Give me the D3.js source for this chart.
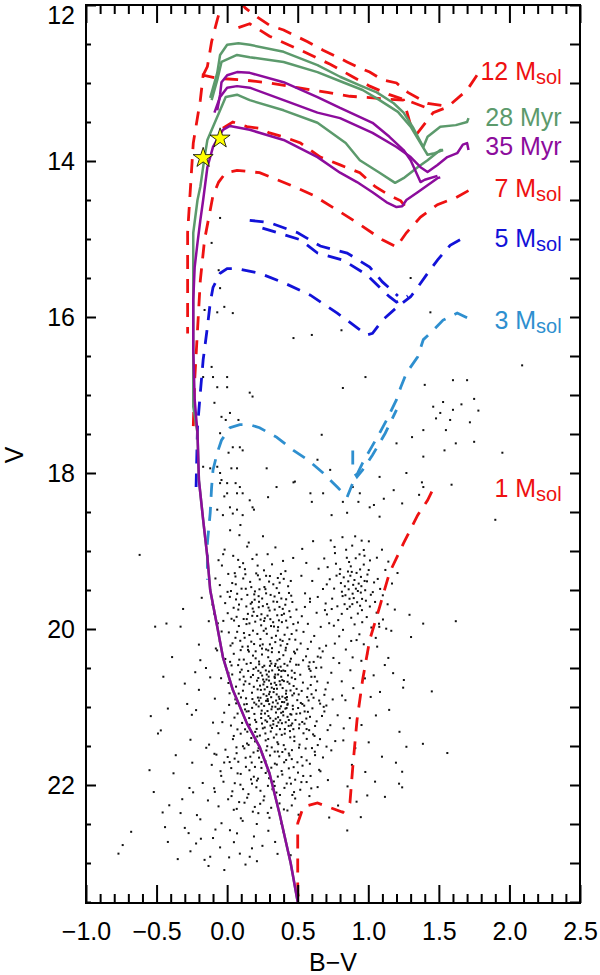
<!DOCTYPE html>
<html>
<head>
<meta charset="utf-8">
<script src="https://cdn.jsdelivr.net/npm/d3@7"></script>
<style>
  body { margin: 0; background: #fff; }
  text { font-family: "Liberation Sans", Arial, sans-serif; }
</style>
</head>
<body>
<script>
// axis ticks
var xTicks = [-1.0, -0.5, 0.0, 0.5, 1.0, 1.5, 2.0, 2.5];
var yTicks = [12, 14, 16, 18, 20, 22];

// pre-main-sequence tracks [B-V, V]
var track12 = [[1.77,12.90],[1.70,13.09],[1.56,13.31],[1.46,13.38],[1.35,13.64],[1.30,13.54],[1.25,13.22],[1.15,13.21],[1.03,13.19],[0.87,13.17],[0.71,13.12],[0.50,13.06],[0.30,13.00],[0.11,12.96],[-0.07,12.94],[-0.17,12.90],[-0.19,13.22],[-0.24,13.77],[-0.28,14.92],[-0.28,16.21]];
var track12b = [[-0.17,12.90],[-0.14,12.79],[-0.11,12.47],[-0.07,12.19],[-0.04,12.00],[0.01,11.90],[0.06,11.90],[0.13,12.04],[0.21,12.15],[0.30,12.26],[0.40,12.32],[0.50,12.41],[0.57,12.47],[0.68,12.58],[0.75,12.64],[0.85,12.73],[0.92,12.79],[1.01,12.86],[1.10,12.96],[1.20,13.00],[1.28,13.12],[1.42,13.26],[1.53,13.29]];
var track12c = [[0.08,12.29],[0.16,12.24],[0.30,12.40],[0.52,12.58],[0.73,12.76],[0.87,12.90],[1.01,13.04],[1.15,13.15],[1.30,13.24],[1.40,13.31]];
var track7 = [[1.71,14.38],[1.62,14.47],[1.49,14.56],[1.37,14.72],[1.27,14.92],[1.20,15.10],[1.10,15.01],[0.92,14.79],[0.78,14.63],[0.61,14.44],[0.45,14.31],[0.23,14.15],[0.07,14.12],[-0.01,14.15],[-0.06,14.27],[-0.10,14.44],[-0.12,14.63],[-0.16,15.01],[-0.19,15.53],[-0.21,16.17],[-0.23,16.81],[-0.24,17.41]];
var track7b = [[-0.03,13.58],[0.04,13.50],[0.14,13.56],[0.23,13.58],[0.30,13.64],[0.40,13.69],[0.52,13.77],[0.66,13.95],[0.80,14.05],[0.94,14.15],[1.05,14.33],[1.15,14.44],[1.23,14.51],[1.26,14.58]];
var track5 = [[1.65,15.01],[1.58,15.08],[1.49,15.27],[1.42,15.44],[1.35,15.62],[1.30,15.74],[1.20,15.88],[1.10,16.04],[1.03,16.21],[0.99,16.23],[0.78,15.95],[0.59,15.72],[0.40,15.56],[0.23,15.44],[0.07,15.38],[0.00,15.38],[-0.05,15.44],[-0.10,15.62],[-0.12,15.82],[-0.14,16.13],[-0.17,16.55],[-0.19,16.97],[-0.21,17.41],[-0.22,18.18]];
var track5b = [[0.16,14.76],[0.30,14.79],[0.50,14.92],[0.66,15.09],[0.85,15.18],[1.01,15.36],[1.10,15.55],[1.18,15.68],[1.21,15.73]];
var track5c = [[0.25,14.86],[0.36,14.92],[0.52,15.01],[0.64,15.18],[0.82,15.27],[0.99,15.46],[1.08,15.62],[1.15,15.74],[1.20,15.81],[1.28,15.73]];
var track3 = [[1.70,16.01],[1.63,15.95],[1.53,16.04],[1.46,16.17],[1.39,16.29],[1.35,16.51],[1.27,16.72],[1.23,16.90],[1.20,17.06],[1.13,17.32],[1.08,17.49],[1.01,17.71],[0.96,17.87],[0.89,18.13],[0.85,18.31],[0.78,18.18],[0.68,18.00],[0.57,17.83],[0.47,17.71],[0.35,17.54],[0.23,17.42],[0.16,17.38],[0.09,17.38],[0.02,17.42],[-0.04,17.58],[-0.07,17.74],[-0.10,17.96],[-0.11,18.18],[-0.12,18.51],[-0.14,18.90],[-0.14,19.37]];
var track3b = [[0.89,17.71],[0.89,17.96],[0.92,18.05],[0.96,17.96],[1.03,17.77],[1.12,17.49],[1.20,17.19]];
var track1 = [[1.45,18.24],[1.42,18.35],[1.35,18.54],[1.25,18.90],[1.15,19.28],[1.08,19.72],[1.01,20.14],[0.96,20.65],[0.92,21.17],[0.89,21.77],[0.87,22.23],[0.82,22.35],[0.64,22.23],[0.54,22.28],[0.50,22.49],[0.50,22.79],[0.50,23.38],[0.52,23.60]];

// isochrones
var iso28a = [[0.51,23.60],[0.45,23.00],[0.37,22.36],[0.30,21.85],[0.23,21.51],[0.14,21.21],[0.04,20.78],[-0.03,20.36],[-0.07,19.97],[-0.12,19.50],[-0.14,19.08],[-0.17,18.60],[-0.20,18.09],[-0.21,17.49],[-0.24,17.15],[-0.24,16.21],[-0.24,15.36],[-0.24,14.92],[-0.21,14.50],[-0.19,14.33],[-0.16,13.95],[-0.14,13.73],[-0.10,13.56],[-0.05,13.35],[-0.01,13.18],[0.07,13.15],[0.16,13.22],[0.40,13.35],[0.64,13.51],[0.84,13.77],[0.94,13.99],[1.08,14.15],[1.19,14.28],[1.25,14.22],[1.35,14.08],[1.42,13.99],[1.51,13.86],[1.53,13.86]];
var iso28b = [[-0.12,13.19],[-0.07,12.87],[-0.05,12.64],[0.00,12.51],[0.08,12.49],[0.16,12.51],[0.40,12.60],[0.64,12.77],[0.80,12.92],[0.94,13.03],[1.06,13.12],[1.18,13.26],[1.25,13.38],[1.32,13.58],[1.39,13.82],[1.42,13.69],[1.51,13.56],[1.62,13.54],[1.70,13.50],[1.71,13.45]];
var iso28c = [[-0.11,13.22],[-0.07,12.96],[-0.04,12.73],[0.07,12.64],[0.16,12.67],[0.40,12.73],[0.64,12.86],[0.82,12.99],[0.96,13.09],[1.08,13.22],[1.21,13.37],[1.30,13.56],[1.37,13.77],[1.42,13.92],[1.47,13.90],[1.53,13.86]];
var iso35a = [[0.51,23.60],[0.45,23.00],[0.37,22.36],[0.30,21.85],[0.23,21.51],[0.14,21.21],[0.04,20.78],[-0.03,20.36],[-0.07,19.97],[-0.12,19.50],[-0.14,19.08],[-0.17,18.60],[-0.20,18.09],[-0.21,17.49],[-0.23,17.06],[-0.24,16.42],[-0.24,15.78],[-0.23,15.36],[-0.21,15.05],[-0.19,14.76],[-0.17,14.50],[-0.14,14.08],[-0.10,13.82],[-0.06,13.69],[-0.03,13.60],[0.02,13.55],[0.16,13.60],[0.40,13.73],[0.64,13.95],[0.80,14.15],[0.92,14.27],[1.03,14.40],[1.13,14.53],[1.20,14.59],[1.24,14.58],[1.27,14.50],[1.35,14.40],[1.42,14.31],[1.49,14.22],[1.51,14.21]];
var iso35b = [[-0.09,13.38],[-0.05,13.18],[0.00,13.06],[0.07,13.04],[0.16,13.06],[0.40,13.22],[0.64,13.38],[0.80,13.45],[1.03,13.64],[1.20,13.82],[1.30,13.95],[1.37,14.08],[1.42,14.14],[1.49,14.05],[1.56,13.95],[1.63,13.90],[1.67,13.79],[1.70,13.77],[1.71,13.86]];
var iso35c = [[-0.07,13.35],[-0.05,13.15],[-0.04,12.99],[0.00,12.90],[0.07,12.86],[0.16,12.87],[0.40,12.99],[0.64,13.18],[0.80,13.32],[1.03,13.51],[1.15,13.69],[1.25,13.86],[1.30,13.99],[1.37,14.27],[1.40,14.24],[1.49,14.19]];

// the two marked stars
var markBV = [-0.05, -0.17];
var markV = [13.71, 13.96];

// observed stars [B-V, V]: main clump core
var starsCore = [
[0.312,20.874],[0.187,20.512],[0.453,21.236],[0.268,21.083],[0.391,20.655],[0.522,20.948],[0.143,21.317],[0.356,20.402],[0.239,20.781],[0.478,20.563],
[0.331,21.392],[0.206,20.967],[0.417,20.829],[0.294,20.611],[0.561,21.148],[0.372,21.021],[0.158,20.703],[0.446,20.417],[0.253,21.274],[0.389,20.936],
[0.319,20.531],[0.491,21.087],[0.227,20.452],[0.363,21.198],[0.134,20.889],[0.408,21.342],[0.284,20.743],[0.537,20.687],[0.342,20.997],[0.198,21.165],
[0.431,20.594],[0.276,20.921],[0.509,21.273],[0.353,20.766],[0.221,20.628],[0.398,21.107],[0.167,20.436],[0.462,20.851],[0.307,21.238],[0.582,20.512],
[0.245,21.046],[0.379,20.483],[0.291,21.411],[0.427,20.972],[0.176,20.817],[0.341,20.584],[0.503,21.013],[0.263,20.677],[0.415,21.196],[0.329,20.809],
[0.213,21.378],[0.471,20.731],[0.384,20.539],[0.152,21.054],[0.298,20.963],[0.445,21.309],[0.237,20.561],[0.361,21.131],[0.528,20.794],[0.283,21.189],
[0.406,20.447],[0.192,20.944],[0.337,20.689],[0.484,21.166],[0.258,20.836],[0.374,21.284],[0.129,20.671],[0.421,20.908],[0.303,20.472],[0.549,21.057],
[0.271,21.339],[0.393,20.757],[0.218,20.879],[0.458,20.623],[0.346,21.071],[0.183,20.589],[0.436,21.242],[0.311,20.702],[0.247,21.212],[0.497,20.912],
[0.367,20.526],[0.279,20.857],[0.413,21.021],[0.161,21.227],[0.324,20.941],[0.518,20.586],[0.233,20.726],[0.387,21.357],[0.293,21.116],[0.449,20.788],
[0.204,20.493],[0.351,20.838],[0.476,21.381],[0.262,20.986],[0.402,20.668],[0.139,20.962],[0.318,21.269],[0.567,20.873],[0.241,21.141],[0.381,20.991],
[0.336,20.612],[0.428,21.126],[0.274,20.531],[0.193,21.089],[0.465,20.984],[0.356,21.452],[0.226,20.918],[0.411,20.539],[0.302,20.806],[0.532,21.192],
[0.255,20.648],[0.371,20.897],[0.441,20.701],[0.177,21.011],[0.327,21.178],[0.489,20.458],[0.289,20.924],[0.396,21.061],[0.216,20.774],[0.348,20.718],
[0.455,21.098],[0.266,21.263],[0.383,20.612],[0.149,20.538],[0.314,21.029],[0.507,20.839],[0.236,20.882],[0.424,20.873],[0.358,20.953],[0.297,20.661],
[0.469,21.284],[0.209,21.281],[0.339,20.474],[0.419,20.791],[0.248,20.597],[0.376,21.169],[0.541,21.337],[0.286,21.052],[0.404,20.938],[0.171,21.398],
[0.297,20.836],[0.352,21.243],[0.223,20.993],[0.412,20.884],[0.338,20.627],[0.271,21.171],[0.466,21.028],[0.189,20.741],[0.383,21.074],[0.251,20.489],
[0.428,20.677],[0.309,21.314],[0.156,21.142],[0.492,20.768],[0.366,20.869],[0.232,21.366],[0.447,21.389],[0.281,20.584],[0.398,20.532],[0.212,20.662],
[0.344,21.151],[0.512,21.223],[0.266,20.774],[0.421,21.013],[0.319,20.996],[0.179,20.898],[0.458,20.534],[0.377,20.713],[0.241,21.087],[0.533,20.962],
[0.313,20.443],[0.437,21.167],[0.287,20.898],[0.361,20.583],[0.199,21.319],[0.474,20.826],[0.349,21.352],[0.257,20.711],[0.409,21.283],[0.332,20.768],
[0.273,21.428],[0.391,20.867],[0.221,20.536],[0.448,21.091],[0.305,21.144],[0.168,20.617],[0.517,21.081],[0.359,21.028],[0.296,20.546],[0.429,20.958],
[0.243,20.958],[0.372,20.669],[0.482,20.642],[0.327,21.222],[0.206,21.193],[0.388,21.208],[0.279,20.648],[0.461,21.211],[0.347,20.917],[0.316,20.752]
];

// upper part of the main clump, just red-ward of the main sequence
var starsUpper = [
[0.021,18.734],[0.153,18.892],[0.287,19.041],[-0.037,19.186],[0.094,18.667],[0.218,19.312],[0.342,18.954],[0.061,19.427],[0.179,19.103],[0.413,19.258],
[-0.018,18.982],[0.126,19.233],[0.254,18.811],[0.372,19.406],[0.043,19.062],[0.197,19.518],[0.318,19.171],[0.087,18.797],[0.231,19.364],[0.468,19.089],
[0.008,19.294],[0.142,18.943],[0.271,19.489],[0.396,19.127],[0.063,19.621],[0.209,19.047],[0.336,19.583],[-0.052,19.437],[0.114,19.352],[0.253,19.707],
[0.381,19.294],[0.027,19.513],[0.167,19.676],[0.297,19.392],[0.438,19.538],[0.079,19.751],[0.223,19.579],[0.355,19.824],[-0.014,19.668],[0.132,19.484],
[0.267,19.862],[0.412,19.689],[0.049,19.891],[0.188,19.779],[0.308,19.563],[0.449,19.847],[0.102,19.618],[0.241,19.953],[0.371,19.717],[0.004,19.797],
[0.158,19.928],[0.283,19.681],[0.427,19.982],[0.071,20.036],[0.213,19.833],[0.346,20.087],[0.491,19.751],[0.124,20.112],[0.262,19.897],[0.393,20.153],
[0.038,20.183],[0.183,20.021],[0.318,20.246],[0.457,20.064],[0.096,20.271],[0.236,20.129],[0.367,20.297],[0.521,20.186],[0.147,20.224],[0.281,20.062],
[0.416,20.241],[0.059,20.113],[0.202,20.286],[0.332,19.968],[0.474,20.291],[0.117,19.872],[0.252,20.197],[0.388,19.912],[0.541,20.037],[0.171,20.162],
[0.301,19.763],[0.441,20.131],[0.083,19.962],[0.224,19.721],[0.359,20.021],[0.502,19.917],[0.136,19.711],[0.274,19.995],[0.403,19.804],[0.031,19.869],
[0.195,19.624],[0.326,19.913],[0.462,19.654],[0.108,20.227],[0.243,19.811],[0.379,20.211],[0.552,19.543],[0.163,19.396],[0.291,20.274],[0.432,19.452],
[0.071,19.548],[0.214,20.063],[0.351,19.476],[0.012,20.044],[0.147,19.806],[0.276,19.543],[0.418,19.893],[0.059,19.327],[0.199,19.906],[0.328,19.648],
[0.483,20.137],[0.119,20.052],[0.247,20.251],[0.384,19.609],[0.529,19.836],[0.089,19.206],[0.229,19.491],[0.361,19.976],[0.451,19.384],[0.178,19.831],
[0.303,19.321],[0.046,19.728],[0.191,20.193],[0.337,19.751],[0.261,19.248],[0.407,20.074],[0.143,19.563],[0.587,19.652],[0.024,20.213],[0.368,19.537],
[0.054,19.284],[0.171,19.463],[0.306,19.874],[0.418,19.619],[0.084,19.687],[0.226,19.651],[0.367,19.889],[0.137,19.937],[0.276,19.318],[0.341,20.168],
[0.019,19.588],[0.158,20.077],[0.293,19.726],[0.441,19.771],[0.067,19.844],[0.206,19.287],[0.354,19.652],[0.113,19.156],[0.248,19.609],[0.387,19.821],
[0.036,19.411],[0.181,19.738],[0.316,20.113],[0.469,19.937],[0.093,20.151],[0.237,19.879],[0.376,20.137],[0.129,19.298],[0.259,20.023],[0.401,19.357],
[-0.027,19.896],[0.216,19.187],[0.327,19.427],[0.078,19.114],[0.192,19.556],[0.311,19.962],[0.454,19.573],[0.148,20.268],[0.286,19.829],[0.426,20.193],
[0.003,19.524],[0.139,19.873],[0.264,19.462],[0.394,19.742],[0.102,19.483],[0.233,20.213],[0.359,19.346],[0.491,20.018],[0.176,19.657],[0.303,20.197]
];

// stars around the edges of the main clump
var starsHalo = [
[0.047,20.318],[0.118,20.392],[0.183,20.341],[0.226,20.418],[0.291,20.362],[0.343,20.447],[0.398,20.336],[0.452,20.381],[0.506,20.459],[0.559,20.351],
[0.613,20.422],[0.078,20.463],[0.154,20.289],[0.263,20.471],[0.317,20.297],[0.371,20.384],[0.427,20.468],[0.481,20.312],[0.538,20.401],[0.202,20.376],
[0.662,20.366],[0.021,20.421],[0.247,20.327],[0.359,20.494],[0.414,20.273],[0.138,20.447],[0.306,20.411],[0.577,20.479],[0.496,20.263],[0.276,20.262],
[0.036,20.583],[0.089,20.647],[0.112,20.791],[0.058,20.902],[0.121,20.967],[0.074,21.084],[0.131,21.167],[0.027,21.238],[0.096,21.342],[0.141,21.468],
[0.066,21.517],[0.103,20.521],[0.014,20.973],[0.047,21.371],[0.127,21.286],[0.082,20.828],[0.009,20.563],[0.117,20.611],[0.063,20.739],[0.138,21.057],
[0.591,20.537],[0.638,20.672],[0.612,20.881],[0.571,20.763],[0.659,20.957],[0.587,21.126],[0.623,21.243],[0.564,21.409],[0.689,20.844],[0.604,21.017],
[0.556,21.532],[0.642,21.488],[0.597,20.613],[0.672,21.115],[0.581,21.297],[0.631,20.498],[0.703,20.981],[0.548,21.214],[0.619,21.371],[0.577,20.916],
[0.152,21.486],[0.223,21.527],[0.284,21.503],[0.337,21.572],[0.401,21.489],[0.459,21.553],[0.513,21.482],[0.198,21.441],[0.362,21.476],[0.476,21.437],
[0.067,21.592],[0.131,21.651],[0.187,21.583],[0.243,21.706],[0.304,21.621],[0.352,21.738],[0.418,21.679],[0.471,21.771],[0.527,21.642],[0.586,21.728],
[0.029,21.783],[0.096,21.858],[0.158,21.811],[0.219,21.918],[0.273,21.846],[0.331,21.955],[0.386,21.821],[0.443,21.907],[0.502,21.841],[0.563,21.962],
[-0.042,21.883],[0.054,21.977],[0.113,22.053],[0.176,21.983],[0.236,22.074],[0.289,22.011],[0.349,22.097],[0.406,22.037],[0.462,22.128],[0.518,22.061],
[-0.087,22.088],[0.031,22.142],[0.085,22.219],[0.142,22.163],[0.196,22.281],[0.258,22.197],[0.312,22.292],[0.371,22.236],[0.427,22.327],[0.482,22.173],
[0.122,21.531],[0.278,21.557],[0.437,21.596],[0.004,21.641],[0.197,21.768],[0.359,21.892],[0.539,21.884],[0.623,21.617],[-0.021,21.712],[0.661,21.824],
[0.079,21.702],[0.226,21.649],[0.391,21.577],[0.498,21.709],[0.169,21.928],[0.313,21.778],[0.452,21.983],[0.596,22.043],[0.047,22.318],[0.221,22.361],
[0.561,19.153],[0.603,19.384],[0.648,19.227],[0.587,19.611],[0.634,19.792],[0.679,19.487],[0.572,19.934],[0.617,20.089],[0.663,19.973],[0.701,20.214],
[0.551,19.717],[0.594,20.163],[0.642,19.589],[0.532,18.973],[0.688,19.096],[0.609,18.874],[0.571,20.256],[0.693,19.758],[0.526,19.318],[0.654,20.248],
[-0.061,19.118],[-0.083,19.352],[-0.047,19.583],[-0.092,19.803],[-0.039,20.032],[-0.071,20.274],[-0.028,19.041],[-0.104,19.687],[-0.066,19.927],[-0.052,20.158],
[0.734,18.864],[0.817,18.823],[0.907,18.812],[1.004,18.876],[1.097,18.983],[1.142,19.136],[1.168,19.417],[1.137,19.683],[1.104,19.878],[1.053,20.114],
[0.968,20.196],[0.879,20.153],[0.794,20.094],[0.723,19.926],[0.698,19.673],[0.706,19.428],[0.712,19.207],[0.761,18.948],[1.188,19.751],[1.207,19.282],
[0.775,19.316],[1.127,19.996],[0.953,18.867],[1.061,19.086],[0.741,19.744]
];

// lower half of the main clump and its edges
var starsLower = [
[0.031,20.467],[-0.043,20.631],[0.092,20.554],[0.017,20.824],[0.118,20.712],[-0.021,21.073],[0.064,20.953],[0.106,21.204],[-0.062,21.336],[0.041,21.412],
[0.127,21.031],[-0.013,20.384],[0.073,21.287],[0.009,20.692],[0.098,20.877],[-0.087,20.893],[0.052,21.136],[-0.128,21.482],[0.086,20.393],[-0.034,21.194],
[0.584,20.427],[0.621,20.612],[0.667,20.493],[0.713,20.688],[0.598,20.836],[0.652,20.917],[0.697,20.774],[0.748,20.903],[0.572,21.062],[0.634,21.184],
[0.689,21.057],[0.731,21.233],[0.783,21.106],[0.609,21.351],[0.658,21.412],[0.712,21.296],[0.766,21.437],[0.592,20.718],[0.642,20.354],[0.704,21.508],
[0.814,20.853],[0.563,21.283],[0.677,20.287],[0.738,20.561],[0.826,21.274],[0.601,21.527],[0.546,20.983],[0.753,20.371],[0.629,20.786],[0.684,20.998],
[-0.148,21.523],[-0.076,21.611],[-0.012,21.547],[0.053,21.662],[0.112,21.503],[0.164,21.637],[0.217,21.561],[0.271,21.692],[0.316,21.518],[0.369,21.633],
[0.412,21.542],[0.458,21.668],[0.509,21.521],[0.563,21.684],[0.621,21.573],[0.679,21.647],[0.738,21.556],[-0.109,21.742],[-0.047,21.823],[0.018,21.706],
[0.074,21.851],[0.133,21.767],[0.189,21.894],[0.243,21.781],[0.297,21.913],[0.338,21.726],[0.391,21.866],[0.437,21.787],[0.482,21.932],[0.534,21.752],
[0.591,21.884],[0.652,21.806],[0.714,21.937],[-0.173,21.974],[-0.092,22.042],[-0.026,21.958],[0.037,22.081],[0.094,21.996],[0.151,22.117],[0.207,22.029],
[0.263,22.146],[0.321,22.054],[0.374,22.128],[0.422,21.981],[0.474,22.091],[0.526,21.963],[0.583,22.142],[0.641,22.027],[-0.136,22.198],[-0.061,22.274],
[0.007,22.183],[0.068,22.306],[0.123,22.227],[0.182,22.342],[0.234,22.241],[0.288,22.358],[0.347,22.196],[0.402,22.313],[0.458,22.262],[0.506,22.381],
[-0.214,22.386],[0.097,22.427],[0.251,21.612],[0.359,21.571],[0.174,21.712],[0.441,21.621],[0.287,21.821],[0.211,21.943],[0.404,21.709],[0.337,22.012],
[-0.77,22.88],[-0.74,22.77],[-0.68,22.6],[-0.44,22.54],[-0.42,22.73],[-0.33,22.36],[-0.41,22.26],[-0.22,22.75],[-0.16,22.96],[-0.12,22.92],
[-0.02,23.09],[-0.1,22.68],[-0.04,22.49],[0.09,22.88],[0.16,22.92],[0.07,22.62],[0.11,22.46],[0.21,22.5],[0.3,22.42],[0.34,22.73],
[0.19,22.66],[-0.19,22.44],[-0.3,22.55],[-0.26,22.85],[-0.05,22.8],[0.02,22.58],[0.25,22.78],[0.4,22.6],[0.13,23.02],[-0.35,22.95],
[0.45,22.9],[-0.52,22.09],[-0.38,21.85],[-0.55,21.81],[-0.273,22.617],[-0.186,22.689],[-0.083,22.571],[0.048,22.733],[0.176,22.812],[0.292,22.587],
[0.357,22.883],[-0.457,22.352],[-0.318,22.182],[-0.241,22.094],[0.014,22.928],[0.211,22.977],[-0.132,23.038],[0.383,22.491],
[-0.19,20.4],[-0.2,20.78],[-0.22,21.04],[-0.12,20.62],[-0.1,21.2],[-0.08,20.25],[-0.13,19.9],[-0.09,21.6],
[-0.283,20.961],[-0.364,21.618],[-0.247,21.714],[-0.452,20.612],[-0.312,19.743],[-0.226,20.554],[-0.541,21.117],[-0.267,22.038]
];

// red clump near B-V 0.9, V 19.5 and the region to its lower right
var starsRed = [
[0.912,19.483],[0.873,19.317],[0.956,19.614],[0.834,19.452],[0.991,19.389],[0.887,19.681],[0.942,19.236],[0.818,19.578],[1.032,19.527],[0.864,19.141],
[0.926,19.802],[0.798,19.294],[0.973,19.061],[0.851,19.743],[1.067,19.358],[0.902,19.372],[0.781,19.709],[1.011,19.712],[0.843,18.984],[0.957,19.913],
[0.889,19.547],[0.932,19.418],[0.867,19.612],[0.978,19.503],[0.826,19.338],[1.003,19.244],[0.911,19.093],[0.758,19.482],[1.048,19.653],[0.879,19.856],
[0.948,19.332],[0.812,19.806],[0.989,19.847],[0.856,19.263],[1.084,19.486],[0.921,19.657],[0.771,19.163],[0.968,19.174],[0.838,19.567],[1.022,19.981],
[0.893,19.434],[0.947,19.533],[0.806,19.411],[0.983,19.637],[0.861,19.491],[1.041,19.403],[0.917,19.281],[0.744,19.611],[0.955,19.758],[0.876,19.197],
[0.832,19.682],[0.994,19.302],[0.903,19.941],[0.787,19.886],[1.059,19.791],[0.938,19.043],[0.848,19.087],[1.012,19.121],[0.886,18.931],[0.968,18.987],
[0.764,19.027],[1.103,19.568],[0.821,20.011],[0.937,20.068],[1.076,19.932],[0.727,19.362],[0.858,19.389],[0.926,19.513],[0.897,19.604],[0.951,19.451],
[0.813,19.522],[0.869,19.713],[1.018,19.561],[0.942,19.702],[0.883,19.268],[0.801,19.233],[0.974,19.384],[1.121,19.243],[0.707,19.813],[0.756,19.958],
[0.763,20.187],[0.841,20.263],[0.917,20.142],[0.992,20.318],[1.063,20.226],[1.142,20.371],[0.794,20.437],[0.873,20.529],[0.951,20.408],[1.038,20.594],
[1.117,20.462],[0.812,20.671],[0.894,20.758],[0.976,20.633],[1.083,20.807],[0.838,20.913],[0.934,20.982],[1.017,20.871],[1.148,21.037],[0.869,21.142],
[0.952,21.231],[1.054,21.108],[0.823,21.428],[0.908,21.527],[1.003,21.453],[1.097,21.637],[0.884,21.742],[0.979,21.833],[1.196,21.714],[0.853,22.018],
[1.048,21.957],[0.917,22.214],[1.247,20.752],[1.303,20.103],[1.221,21.318],[0.786,22.263],[1.118,22.152],[0.723,22.417],[1.078,19.972],[1.389,19.931],
[1.252,20.654],[1.387,21.472],[1.218,21.983],[0.993,22.134],[0.851,22.583],[1.163,20.023],[1.292,19.818],[0.947,22.412],[1.176,20.566],[0.889,20.364]
];

// brighter, sparser stars above V ~ 18.6 and the scattered field
var starsField = [
[-0.17,17.92],[-0.12,17.94],[-0.07,17.92],[-0.05,18.0],[-0.04,18.09],[0.0,18.13],[0.03,17.94],[0.07,17.94],[0.06,18.13],[0.09,18.18],
[0.11,18.26],[0.16,18.35],[0.18,18.44],[0.0,18.26],[0.02,18.44],[0.07,18.47],[0.11,18.54],[-0.03,18.54],[-0.07,18.47],[-0.05,17.49],
[-0.01,17.32],[-0.04,17.28],[0.02,17.23],[0.08,17.32],[0.09,17.67],[0.11,17.71],[0.04,17.67],[0.01,17.74],[0.16,16.97],[0.0,16.9],
[-0.07,16.9],[-0.09,17.1],[-0.1,16.77],[-0.17,16.77],[-0.11,16.64],[0.0,16.77],
[-0.05,14.73],[-0.11,15.05],[-0.06,15.4],[-0.05,15.63],[-0.16,15.91],[-0.07,15.94],[-0.02,15.87],[0.04,15.95],[0.47,16.27],[0.6,16.23],[0.81,16.17],
[1.3,15.5],[1.44,15.94],[2.09,16.62],[0.98,16.77],[0.82,16.91],[0.18,17.02],[1.4,16.87],[1.6,16.81],[1.7,16.81],[1.95,17.74],
[1.59,18.15],[1.39,17.79],[1.2,17.62],[1.31,17.54],[1.39,17.45],[1.54,17.71],[1.62,17.62],[0.67,17.51],[1.08,18.05],[1.27,18.0],
[1.38,18.12],[0.94,18.26],[0.73,17.96],[0.64,17.83],[0.28,17.94],[0.47,18.12],[0.59,18.26],[0.74,18.54],[0.85,18.51],[1.01,18.44],
[1.08,18.56],[0.93,18.37],[0.29,18.31],
[1.46,17.15],[1.53,17.09],[1.51,17.23],[1.58,17.32],[1.6,17.19],[1.48,17.3],[1.75,17.05],[1.78,17.2],[1.66,17.12],[1.72,17.35],[1.55,17.45],
[-0.05,18.13],[-0.02,18.3],[0.07,18.26],[0.19,18.47],[0.04,18.52],[0.6,18.37],[0.68,18.26],[0.82,18.37],[0.89,18.18],[1.04,18.41],
[1.11,18.33],[1.18,18.22],[1.24,18.39],[1.39,18.18],[0.48,18.11],[0.35,18.18],[1.36,18.28],
[-0.62,19.05],[-0.51,19.97],[-0.43,19.93],[-0.33,19.97],[-0.39,20.36],[-0.42,21.02],[-0.49,21.34],[-0.47,21.3],[-0.26,21.42],[-0.3,20.7],
[-0.2,20.2],[-0.25,21.1],[-0.15,20.5],[-0.18,19.6],[1.9,18.6],[1.62,19.9],[1.45,20.8],[1.75,17.6],[1.27,21.51],[1.56,21.59],
[1.24,21.83],[1.24,22.03]
];

// right-hand labels
var labelText = ["12 M", "28 Myr", "35 Myr", "7 M", "5 M", "3 M", "1 M"];
var labelSub = ["sol", "", "", "sol", "sol", "sol", "sol"];
var labelV = [12.96, 13.55, 13.92, 14.46, 15.10, 16.15, 18.31];
var labelBV = 2.37;

var RED = "#ee1111", BLUE = "#1212d8", LBLUE = "#2e8fcf", GREEN = "#5c9a6c", PURPLE = "#8c0c9c";
var labelColor = [RED, GREEN, PURPLE, RED, BLUE, LBLUE, RED];

var width = 600, height = 975;
var svg = d3.select("body").append("svg").attr("width", width).attr("height", height);

var x = d3.scaleLinear().domain([-1, 2.5]).range([86, 580]);
var y = d3.scaleLinear().domain([12, 23.5]).range([5, 902]);

svg.append("defs").append("clipPath").attr("id", "plotclip")
  .append("rect").attr("x", 86).attr("y", 5).attr("width", 494).attr("height", 898);

var plot = svg.append("g").attr("clip-path", "url(#plotclip)");

// stars as tiny dots
var allStars = starsCore.concat(starsUpper, starsHalo, starsLower, starsRed, starsField);
plot.selectAll("rect.dot").data(allStars).join("rect")
  .attr("class", "dot")
  .attr("x", function(d) { return x(d[0]) - 1; })
  .attr("y", function(d) { return y(d[1]) - 1; })
  .attr("width", 2).attr("height", 2)
  .attr("fill", "#111");

var line = d3.line().x(function(d) { return x(d[0]); }).y(function(d) { return y(d[1]); });

var dashed = [
  [track12, RED], [track12b, RED], [track12c, RED], [track7, RED], [track7b, RED],
  [track5, BLUE], [track5b, BLUE], [track5c, BLUE],
  [track3, LBLUE], [track3b, LBLUE], [track1, RED]
];
dashed.forEach(function(t) {
  plot.append("path").attr("d", line(t[0]))
    .attr("fill", "none").attr("stroke", t[1])
    .attr("stroke-width", 2.8).attr("stroke-dasharray", "14,10");
});

[[iso28a, GREEN], [iso28b, GREEN], [iso28c, GREEN], [iso35a, PURPLE], [iso35b, PURPLE], [iso35c, PURPLE]].forEach(function(t) {
  plot.append("path").attr("d", line(t[0]))
    .attr("fill", "none").attr("stroke", t[1])
    .attr("stroke-width", 2.5).attr("stroke-linejoin", "round");
});

// yellow star markers
svg.selectAll("path.mark").data(markBV).join("path")
  .attr("class", "mark")
  .attr("d", d3.symbol(d3.symbolStar).size(125))
  .attr("transform", function(d, i) { return "translate(" + x(d) + "," + y(markV[i]) + ")"; })
  .attr("fill", "#ffff00").attr("stroke", "#000").attr("stroke-width", 0.8);

// axes
function styleAxis(g) {
  g.select(".domain").remove();
  g.attr("font-size", 25).attr("font-family", '"Liberation Sans", Arial, sans-serif');
  g.selectAll("line").attr("stroke", "#000").attr("stroke-width", 2);
  g.selectAll("text").attr("fill", "#000");
}
var xMinor = d3.range(-10, 26).map(function(i) { return i / 10; })
  .filter(function(v) { return Math.abs(v * 2 - Math.round(v * 2)) > 1e-6; });
var yMinor = d3.range(24, 48).map(function(i) { return i / 2; })
  .filter(function(v) { return yTicks.indexOf(v) < 0; });

svg.append("g").attr("transform", "translate(0,903)")
  .call(d3.axisBottom(x).tickValues(xTicks).tickSize(-18).tickPadding(19).tickFormat(d3.format(".1f")))
  .call(styleAxis);
svg.append("g").attr("transform", "translate(0,903)")
  .call(d3.axisBottom(x).tickValues(xMinor).tickSize(-9).tickFormat(""))
  .call(styleAxis);
svg.append("g").attr("transform", "translate(0,5)")
  .call(d3.axisTop(x).tickValues(xTicks).tickSize(-18).tickFormat(""))
  .call(styleAxis);
svg.append("g").attr("transform", "translate(0,5)")
  .call(d3.axisTop(x).tickValues(xMinor).tickSize(-9).tickFormat(""))
  .call(styleAxis);

var yAxisG = svg.append("g").attr("transform", "translate(86,0)")
  .call(d3.axisLeft(y).tickValues(yTicks).tickSize(-10).tickPadding(11).tickFormat(d3.format("d")))
  .call(styleAxis);
yAxisG.selectAll(".tick text").filter(function(d) { return d === 12; }).attr("dy", "0.75em");
svg.append("g").attr("transform", "translate(86,0)")
  .call(d3.axisLeft(y).tickValues(yMinor).tickSize(-5).tickFormat(""))
  .call(styleAxis);
svg.append("g").attr("transform", "translate(580,0)")
  .call(d3.axisRight(y).tickValues(yTicks.concat(yMinor)).tickSize(-10).tickFormat(""))
  .call(styleAxis);

// frame
svg.append("rect").attr("x", 86).attr("y", 5).attr("width", 494).attr("height", 898)
  .attr("fill", "none").attr("stroke", "#000").attr("stroke-width", 2);

// axis titles
svg.append("text").attr("x", 333).attr("y", 971).attr("text-anchor", "middle")
  .attr("font-size", 25).text("B\u2212V");
svg.append("text").attr("transform", "translate(23,455) rotate(-90)")
  .attr("text-anchor", "middle").attr("font-size", 25).text("V");

// labels
labelText.forEach(function(t, i) {
  var tx = svg.append("text").attr("x", x(labelBV)).attr("y", y(labelV[i]))
    .attr("text-anchor", "end").attr("font-size", 25).attr("fill", labelColor[i]);
  tx.append("tspan").text(t);
  if (labelSub[i]) tx.append("tspan").attr("font-size", 20).attr("dy", 4).text(labelSub[i]);
});
</script>
</body>
</html>
